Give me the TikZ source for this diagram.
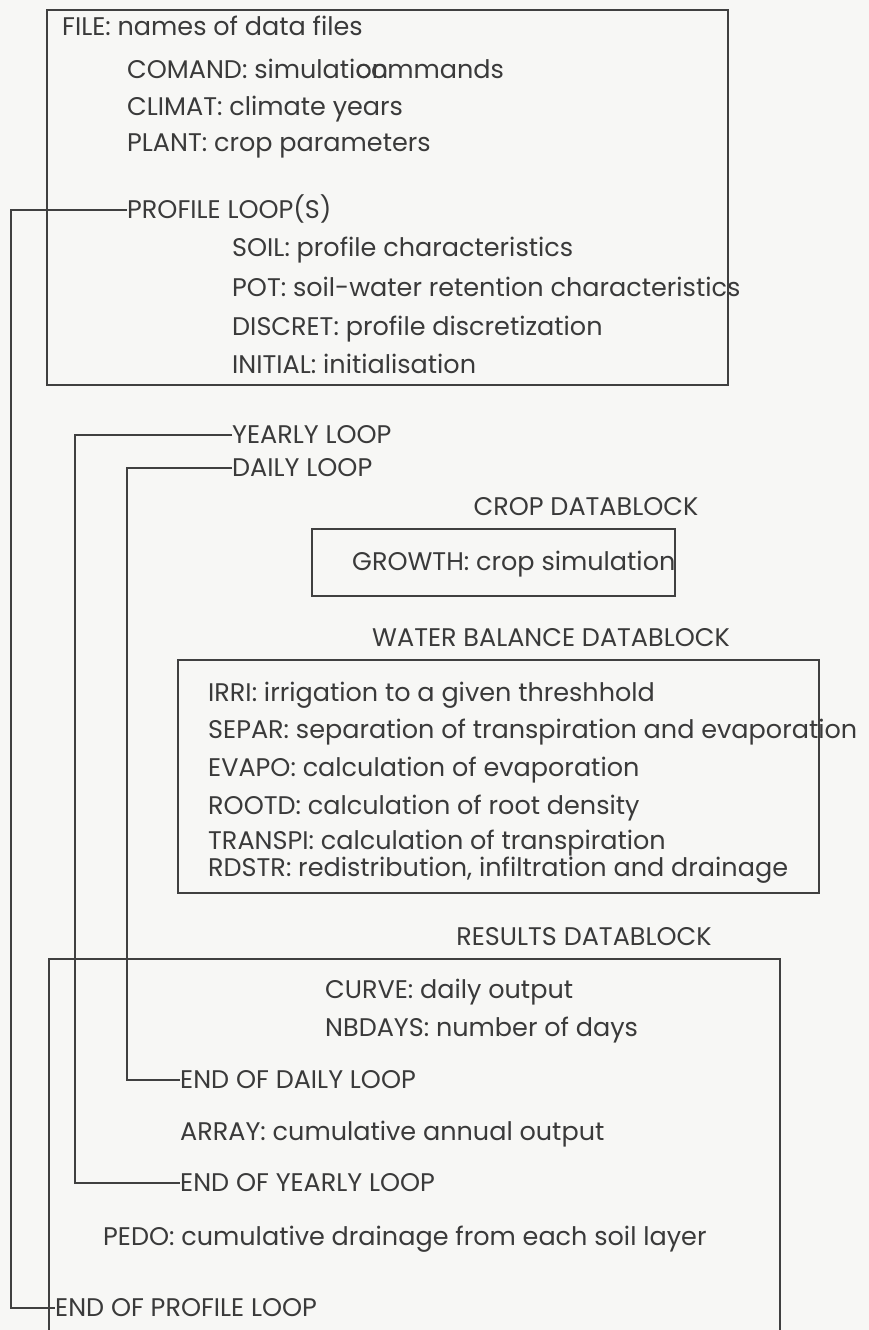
\documentclass[tikz,border=0pt]{standalone}
\usepackage{fontspec}
\setmainfont{Poppins}
\definecolor{ink}{HTML}{3A3A3A}
\definecolor{rule}{HTML}{404040}
\definecolor{paper}{HTML}{F7F7F5}
\begin{document}
\begin{tikzpicture}[x=1pt,y=-1pt,
  label/.style={anchor=west, inner sep=0pt, text height=17pt, text depth=0pt,
    font=\fontsize{25.5}{28}\selectfont, text=ink},
  title/.style={label, anchor=center},
  frame/.style={draw=rule, line width=1.8pt},
  loopline/.style={draw=rule, line width=1.8pt}]

% page
\fill[paper] (0,0) rectangle (869,1330);
\useasboundingbox (0,0) rectangle (869,1330);

% ---- set-up block ----
\draw[frame] (47,10) rectangle (728,385);
\node[label] (file)    at (62,27)   {FILE: names of data files};
\node[label] (comand)  at (127,70)  {COMAND: simulati\rlap{on}commands};
\node[label] (climat)  at (127,107) {CLIMAT: climate years};
\node[label] (plant)   at (127,143) {PLANT: crop parameters};
\node[label] (prof)    at (127,210) {PROFILE LOOP(S)};
\node[label] (soil)    at (232,248) {SOIL: profile characteristics};
\node[label] (pot)     at (232,288) {POT: soil-water retention characteristics};
\node[label] (discret) at (232,327) {DISCRET: profile discretization};
\node[label] (initial) at (232,365) {INITIAL: initialisation};

% ---- loop heads ----
\node[label] (yearly) at (232,435) {YEARLY LOOP};
\node[label] (daily)  at (232,468) {DAILY LOOP};

% ---- crop datablock ----
\node[title] (cropttl) at (586,507) {CROP DATABLOCK};
\draw[frame] (312,529) rectangle (675,596);
\node[label] (growth) at (352,562) {GROWTH: crop simulation};

% ---- water balance datablock ----
\node[title] (wbttl) at (551,638) {WATER BALANCE DATABLOCK};
\draw[frame] (178,660) rectangle (819,893);
\node[label] (irri)    at (208,693) {IRRI: irrigation to a given threshhold};
\node[label] (separ)   at (208,730) {SEPAR: separation of transpiration and evaporation};
\node[label] (evapo)   at (208,768) {EVAPO: calculation of evaporation};
\node[label] (rootd)   at (208,806) {ROOTD: calculation of root density};
\node[label] (transpi) at (208,841) {TRANSPI: calculation of transpiration};
\node[label] (rdstr)   at (208,868) {RDSTR: redistribution, infiltration and drainage};

% ---- results datablock ----
\node[title] (resttl) at (584,937) {RESULTS DATABLOCK};
\draw[frame] (49,1330) -- (49,959) -- (780,959) -- (780,1330);
\node[label] (curve)     at (325,990)  {CURVE: daily output};
\node[label] (nbdays)    at (325,1028) {NBDAYS: number of days};
\node[label] (enddaily)  at (180,1080) {END OF DAILY LOOP};
\node[label] (array)     at (180,1132) {ARRAY: cumulative annual output};
\node[label] (endyearly) at (180,1183) {END OF YEARLY LOOP};
\node[label] (pedo)      at (103,1237) {PEDO: cumulative drainage from each soil layer};
\node[label] (endprof)   at (55,1308)  {END OF PROFILE LOOP};

% ---- loop brackets ----
\coordinate (xprof)  at (11,0);
\coordinate (xyear)  at (75,0);
\coordinate (xday)   at (127,0);
\draw[loopline] (prof.west)   -- (prof.west -| xprof)   |- (endprof.west);
\draw[loopline] (yearly.west) -- (yearly.west -| xyear) |- (endyearly.west);
\draw[loopline] (daily.west)  -- (daily.west -| xday)   |- (enddaily.west);
\end{tikzpicture}
\end{document}
